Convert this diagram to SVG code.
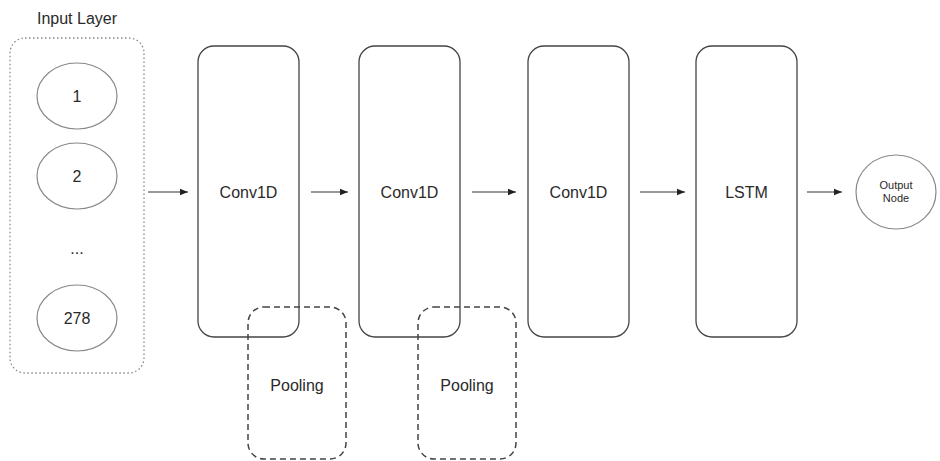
<svg xmlns="http://www.w3.org/2000/svg" width="940" height="461" viewBox="0 0 940 461">
<defs>
<marker id="arr" viewBox="0 0 10 10" refX="10" refY="5" markerWidth="8" markerHeight="8" markerUnits="userSpaceOnUse" orient="auto"><path d="M0,1 L10,5 L0,9 z" fill="#222"/></marker>
<style>
text{font-family:"Liberation Sans",Arial,sans-serif;fill:#2a2a2a;text-anchor:middle}
.box{fill:none;stroke:#444;stroke-width:1.3}
.pool{fill:none;stroke:#444;stroke-width:1.5;stroke-dasharray:6,4}
.inp{fill:none;stroke:#888;stroke-width:1.3;stroke-dasharray:1.5,2.5}
.node{fill:#fff;stroke:#888;stroke-width:1.2}
.lbl{font-size:16px}
.edge{stroke:#333;stroke-width:1;fill:none;marker-end:url(#arr)}
</style>
</defs>
<rect width="940" height="461" fill="#fff"/>
<g id="input-layer">
<text x="77" y="24" style="font-size:16px">Input Layer</text>
<rect class="inp" x="10" y="38" width="134" height="335" rx="15"/>
</g>
<g id="n1"><ellipse class="node" cx="77" cy="96" rx="40" ry="33"/><text x="77" y="102" class="lbl">1</text></g>
<g id="n2"><ellipse class="node" cx="77" cy="176" rx="40" ry="33"/><text x="77" y="182" class="lbl">2</text></g>
<g id="dots"><text x="77" y="254" class="lbl">...</text></g>
<g id="n278"><ellipse class="node" cx="77" cy="318" rx="40" ry="33"/><text x="77" y="324" class="lbl">278</text></g>
<g id="conv1"><rect class="box" x="198" y="46" width="101" height="291" rx="16"/><text x="248.5" y="198" class="lbl">Conv1D</text></g>
<g id="conv2"><rect class="box" x="359" y="46" width="101" height="291" rx="16"/><text x="409.5" y="198" class="lbl">Conv1D</text></g>
<g id="conv3"><rect class="box" x="528" y="46" width="101" height="291" rx="16"/><text x="578.5" y="198" class="lbl">Conv1D</text></g>
<g id="lstm"><rect class="box" x="696" y="46" width="101" height="291" rx="16"/><text x="746.5" y="198" class="lbl">LSTM</text></g>
<g id="pool1"><rect class="pool" x="248" y="307" width="98" height="152" rx="16"/><text x="297" y="391" class="lbl">Pooling</text></g>
<g id="pool2"><rect class="pool" x="418" y="307" width="98" height="152" rx="16"/><text x="467" y="391" class="lbl">Pooling</text></g>
<g id="output"><ellipse class="node" cx="896" cy="192" rx="40" ry="37"/><text x="896" y="189" style="font-size:11px">Output</text><text x="896" y="202" style="font-size:11px">Node</text></g>
<g id="connectors">
<line class="edge" x1="148" y1="192" x2="188" y2="192"/>
<line class="edge" x1="311" y1="192" x2="348" y2="192"/>
<line class="edge" x1="472" y1="192" x2="516" y2="192"/>
<line class="edge" x1="640" y1="192" x2="685" y2="192"/>
<line class="edge" x1="807" y1="192" x2="842" y2="192"/>
</g>
</svg>
